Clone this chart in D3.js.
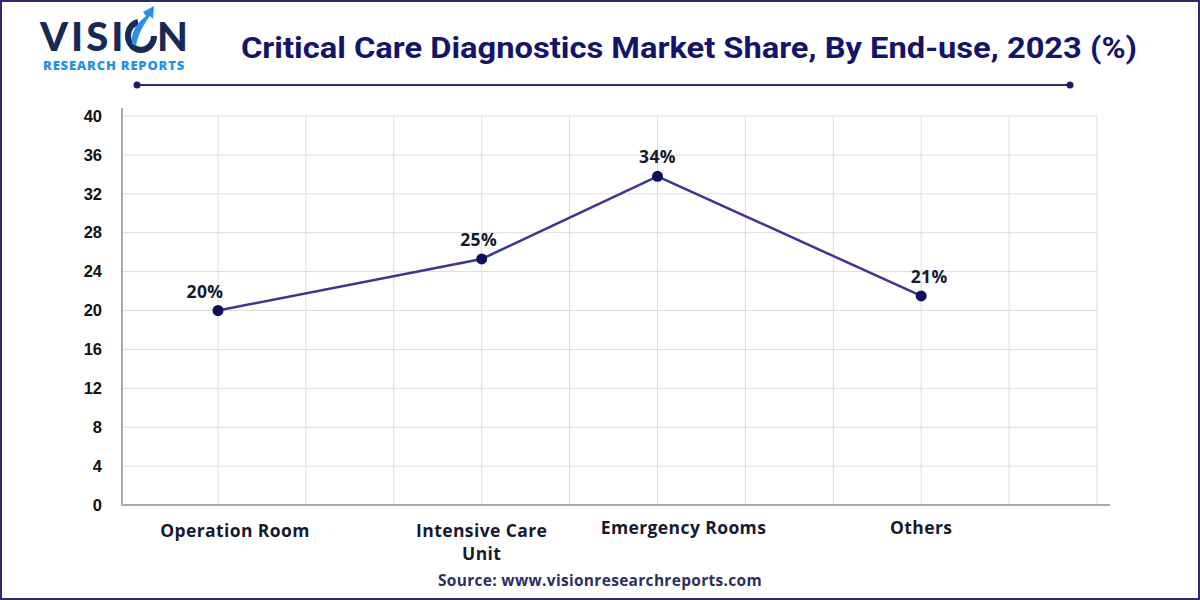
<!DOCTYPE html>
<html>
<head>
<meta charset="utf-8">
<script src="https://cdn.jsdelivr.net/npm/d3@7"></script>
<style>
  body { margin: 0; background: #fff; }
  svg { display: block; }
</style>
</head>
<body>
<section></section>
<script>
// chart data
var categories = ["Operation Room", "Intensive Care Unit", "Emergency Rooms", "Others"];
var shares = [20, 25.3, 33.8, 21.5];
var shareLabels = ["20%", "25%", "34%", "21%"];
var yTicks = [0, 4, 8, 12, 16, 20, 24, 28, 32, 36, 40];

var width = 1200,
	height = 600;

var svg = d3.select('section')
	.append('svg')
	.attr('width', width)
	.attr('height', height);

// frame
svg.append("rect")
	.attr("x", 1).attr("y", 1)
	.attr("width", width - 2).attr("height", height - 2)
	.attr("fill", "none")
	.attr("stroke", "#2b2b6b")
	.attr("stroke-width", 2);

// logo
var logo = svg.append("g").attr("transform", "translate(40,0)");
logo.append("text")
	.attr("x", 0).attr("y", 51)
	.attr("font-family", "Lato, 'DejaVu Sans', sans-serif")
	.attr("font-weight", 900)
	.attr("font-size", 40)
	.attr("letter-spacing", 3)
	.attr("fill", "#172a56")
	.text("VISI");
logo.append("text")
	.attr("x", 117).attr("y", 51)
	.attr("font-family", "Lato, 'DejaVu Sans', sans-serif")
	.attr("font-weight", 900)
	.attr("font-size", 40)
	.attr("fill", "#172a56")
	.text("N");
// the "O" drop with arrow
logo.append("path")
	.attr("d", "M114,36 A13,14 0 1 1 88,36 A13,14 0 0 1 98,22")
	.attr("fill", "none")
	.attr("stroke", "#172a56")
	.attr("stroke-width", 6);
logo.append("path")
	.attr("d", "M92,44 C90,32 98,22 106,16 L103,12 L114,6 L113,19 L110,16 C104,24 98,34 96,46 Z")
	.attr("fill", "#2a8fe6");
logo.append("text")
	.attr("x", 74).attr("y", 70)
	.attr("text-anchor", "middle")
	.attr("font-family", "'Open Sans', 'DejaVu Sans', sans-serif")
	.attr("font-weight", 800)
	.attr("font-size", 13)
	.attr("letter-spacing", 0.8)
	.attr("fill", "#2590e8")
	.text("RESEARCH REPORTS");

// title
svg.append("text")
	.attr("x", 689).attr("y", 58)
	.attr("text-anchor", "middle")
	.attr("font-family", "Roboto, sans-serif")
	.attr("font-weight", 700)
	.attr("font-size", 30)
	.attr("textLength", 896)
	.attr("lengthAdjust", "spacingAndGlyphs")
	.attr("fill", "#14146a")
	.text("Critical Care Diagnostics Market Share, By End-use, 2023 (%)");

// rule under title
svg.append("line")
	.attr("x1", 137).attr("x2", 1070)
	.attr("y1", 85).attr("y2", 85)
	.attr("stroke", "#2b2b7a").attr("stroke-width", 2);
svg.selectAll(".rule-dot").data([137, 1070]).enter().append("circle")
	.attr("cx", function(d) { return d; }).attr("cy", 85).attr("r", 3.5)
	.attr("fill", "#1c1c6a");

// scales: categories sit on a grid of 11 vertical lines
var slots = [0, 3, 5, 8];
var x = d3.scaleLinear().domain([0, 10]).range([218, 1097]);
var y = d3.scaleLinear().domain([0, 40]).range([505, 116]);
var axisX = 122;

var g = svg.append("g");

// horizontal grid
g.append("g").selectAll("line").data(yTicks.slice(1)).enter().append("line")
	.attr("x1", axisX).attr("x2", x(10))
	.attr("y1", function(d) { return y(d); })
	.attr("y2", function(d) { return y(d); })
	.attr("stroke", "#dcdcdc").attr("stroke-width", 1);

// vertical grid
g.append("g").selectAll("line").data(d3.range(0, 11)).enter().append("line")
	.attr("x1", function(d) { return x(d); })
	.attr("x2", function(d) { return x(d); })
	.attr("y1", y(40)).attr("y2", y(0))
	.attr("stroke", "#dcdcdc").attr("stroke-width", 1);

// axes lines
g.append("line")
	.attr("x1", axisX).attr("x2", axisX)
	.attr("y1", 108).attr("y2", y(0) + 1)
	.attr("stroke", "#aaaaaa").attr("stroke-width", 2);
g.append("line")
	.attr("x1", axisX - 1).attr("x2", 1110)
	.attr("y1", y(0)).attr("y2", y(0))
	.attr("stroke", "#aaaaaa").attr("stroke-width", 2);

// y axis labels
var yAxis = d3.axisLeft(y).tickValues(yTicks).tickSize(0).tickPadding(0);
var yg = g.append("g").attr("transform", "translate(102,0)").call(yAxis);
yg.select(".domain").remove();
yg.selectAll("text")
	.attr("font-family", "'Liberation Sans', Arial, sans-serif")
	.attr("font-weight", 700)
	.attr("font-size", 16.5)
	.attr("fill", "#111");

// x labels
var labelShift = [17, 0, 26, 0];
var xl = g.append("g").selectAll("text").data(categories).enter().append("text")
	.attr("text-anchor", "middle")
	.attr("font-family", "'Open Sans', Inter, sans-serif")
	.attr("font-weight", 700)
	.attr("font-size", 17.5)
	.attr("letter-spacing", 0.4)
	.attr("fill", "#161a2e")
	.attr("transform", function(d, i) {
		return "translate(" + (x(slots[i]) + labelShift[i]) + ",537)";
	});
xl.each(function(d, i) {
	var t = d3.select(this);
	if (d == "Intensive Care Unit") {
		t.append("tspan").attr("x", 0).attr("dy", 0).text("Intensive Care");
		t.append("tspan").attr("x", 0).attr("dy", 23).text("Unit");
	} else {
		t.text(d);
		if (i != 0) t.attr("dy", -3);
	}
});

// line
var line = d3.line()
	.x(function(d, i) { return x(slots[i]); })
	.y(function(d) { return y(d); });

g.append("path")
	.datum(shares)
	.attr("d", line)
	.attr("fill", "none")
	.attr("stroke", "#383890")
	.attr("stroke-width", 2.5);

g.append("g").selectAll("circle").data(shares).enter().append("circle")
	.attr("cx", function(d, i) { return x(slots[i]); })
	.attr("cy", function(d) { return y(d); })
	.attr("r", 5.5)
	.attr("fill", "#0e0e5c");

// value labels
var valShift = [-13, -3, 0, 8];
g.append("g").selectAll("text").data(shares).enter().append("text")
	.attr("x", function(d, i) { return x(slots[i]) + valShift[i]; })
	.attr("y", function(d) { return y(d) - 13; })
	.attr("text-anchor", "middle")
	.attr("font-family", "'Open Sans', Inter, sans-serif")
	.attr("font-weight", 700)
	.attr("font-size", 17.5)
	.attr("letter-spacing", 0.4)
	.attr("fill", "#141a2e")
	.text(function(d, i) { return shareLabels[i]; });

// source
svg.append("text")
	.attr("x", 600).attr("y", 586)
	.attr("text-anchor", "middle")
	.attr("font-family", "'Open Sans', Inter, sans-serif")
	.attr("font-weight", 700)
	.attr("font-size", 15.5)
	.attr("letter-spacing", 0.3)
	.attr("fill", "#2a2f5e")
	.text("Source: www.visionresearchreports.com");
</script>
</body>
</html>
